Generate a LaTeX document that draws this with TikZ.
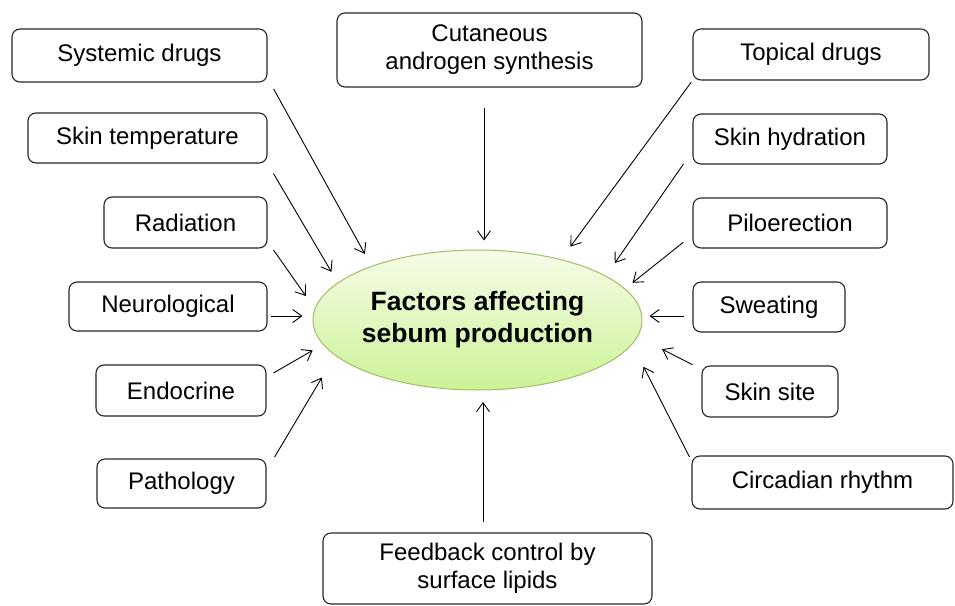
\documentclass[tikz,border=0pt]{standalone}
\usepackage{fontspec}
\setmainfont{Liberation Sans}
\usepackage{xcolor}
\usepackage{tikz}
\definecolor{ovalline}{RGB}{160, 190, 105}
\definecolor{ovaltop}{RGB}{245, 252, 232}
\definecolor{ovalbottom}{RGB}{204, 242, 150}
\usetikzlibrary{shapes.geometric, arrows.meta}

\begin{document}
\begin{tikzpicture}[
    x=1pt, y=-1pt,
    factorbox/.style={rectangle, draw=black!85, line width=1.1pt, rounded corners=8pt, inner sep=0pt, minimum height=50pt, align=center, font=\fontsize{24}{28}\selectfont},
    arrow/.style={-{Straight Barb[length=9pt, width=13pt]}, line width=0.9pt}
]
    \useasboundingbox (0,0) rectangle (955,605);

    % Centre
    \node[ellipse, draw=ovalline, line width=1pt, top color=ovaltop, bottom color=ovalbottom, minimum width=329pt, minimum height=140pt, inner sep=0pt, align=center, font=\fontsize{26.5}{32}\selectfont\bfseries] (factors) at (477.5, 320) {Factors affecting\\sebum production};

    % Left column
    \node[factorbox, minimum width=255pt, minimum height=53pt] (systemic) at (139.5, 55.5) {Systemic drugs};
    \node[factorbox, minimum width=239pt] (skintemp) at (147.5, 138) {Skin temperature};
    \node[factorbox, minimum width=163pt, minimum height=51pt] (radiation) at (185.5, 222.5) {Radiation};
    \node[factorbox, minimum width=198pt, minimum height=49pt] (neuro) at (168, 306.5) {Neurological};
    \node[factorbox, minimum width=170pt, minimum height=51pt] (endocrine) at (181, 390.5) {Endocrine};
    \node[factorbox, minimum width=169pt, minimum height=49pt] (pathology) at (181.5, 483.5) {Pathology};

    % Top and bottom
    \node[factorbox, minimum width=305pt, minimum height=74pt] (androgen) at (489.5, 50) {Cutaneous\\androgen synthesis};
    \node[factorbox, minimum width=329pt, minimum height=71pt] (feedback) at (487.5, 568.5) {Feedback control by\\surface lipids};

    % Right column
    \node[factorbox, minimum width=236pt, minimum height=51pt] (topical) at (811, 54.5) {Topical drugs};
    \node[factorbox, minimum width=194pt] (hydration) at (790, 139) {Skin hydration};
    \node[factorbox, minimum width=194pt] (pilo) at (790, 223) {Piloerection};
    \node[factorbox, minimum width=152pt] (sweating) at (769, 307) {Sweating};
    \node[factorbox, minimum width=136pt, minimum height=51pt] (skinsite) at (770, 391.5) {Skin site};
    \node[factorbox, minimum width=261pt, minimum height=53pt] (circadian) at (822.5, 482.5) {Circadian rhythm};

    % Arrows from the left
    \draw[arrow, shorten <=12.6pt, shorten >=13.8pt] ([yshift=-22.4pt]systemic.east) -- (factors.153.9);
    \draw[arrow, shorten <=11.7pt, shorten >=12.4pt] (skintemp.south east) -- (factors.165);
    \draw[arrow, shorten <=10.4pt, shorten >=15.4pt] ([yshift=-19pt]radiation.east) -- (factors.176.3);
    \draw[arrow, shorten <=3pt, shorten >=10pt] ([yshift=-9.5pt]neuro.east) -- ([yshift=-9.5pt]neuro.east -| factors.west);
    \draw[arrow, shorten <=8pt, shorten >=11.7pt] ([yshift=13.5pt]endocrine.east) -- (factors.-171.1);
    \draw[arrow, shorten <=15.6pt, shorten >=25.6pt] ([yshift=13pt]pathology.east) -- (factors.-166.1);

    % Arrows from above and below
    \draw[arrow, shorten <=20pt, shorten >=9pt] ([xshift=-5.5pt]androgen.south) -- ([xshift=-5.5pt]androgen.south |- factors.north);
    \draw[arrow, shorten <=10pt, shorten >=11.5pt] ([xshift=-4.5pt]feedback.north) -- ([xshift=-4.5pt]feedback.north |- factors.south);

    % Arrows from the right
    \draw[arrow, shorten <=2pt, shorten >=15.7pt] (topical.south west) -- (factors.36);
    \draw[arrow, shorten <=15.6pt, shorten >=15.5pt] ([yshift=-12pt]hydration.west) -- (factors.19.2);
    \draw[arrow, shorten <=11.5pt, shorten >=9.3pt] ([yshift=-12pt]pilo.west) -- (factors.12);
    \draw[arrow, shorten <=8pt, shorten >=7pt] ([yshift=-9pt]sweating.west) -- ([yshift=-9pt]sweating.west -| factors.east);
    \draw[arrow, shorten <=9.9pt, shorten >=27.3pt] ([yshift=22.3pt]skinsite.west) -- (factors.-6.6);
    \draw[arrow, shorten <=4.3pt, shorten >=25pt] ([yshift=21.7pt]circadian.west) -- (factors.-9.2);

\end{tikzpicture}
\end{document}
